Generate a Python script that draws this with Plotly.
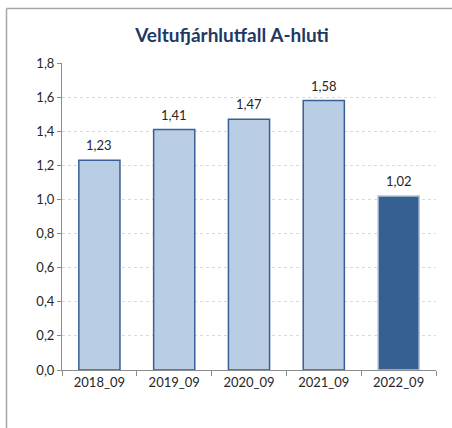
import plotly.graph_objects as go

categories = ["2018_09", "2019_09", "2020_09", "2021_09", "2022_09"]
values = [1.23, 1.41, 1.47, 1.58, 1.02]
fill_colors = ["#B9CDE5", "#B9CDE5", "#B9CDE5", "#B9CDE5", "#376092"]
line_colors = ["#3A5F95", "#3A5F95", "#3A5F95", "#3A5F95", "#B4C4DA"]
y_ticks = [0.0, 0.2, 0.4, 0.6, 0.8, 1.0, 1.2, 1.4, 1.6, 1.8]

FONT = "Lato, Calibri, Carlito, sans-serif"

fig = go.Figure()
fig.add_trace(go.Bar(
    x=categories, y=values, width=0.55,
    marker=dict(color=fill_colors, line=dict(color=line_colors, width=1.5)),
    hoverinfo="skip",
))

for c, v in zip(categories, values):
    fig.add_annotation(
        x=c, y=v, xref="x", yref="y", text=f"{v:.2f}".replace(".", ","),
        showarrow=False, yanchor="bottom", yshift=5,
        font=dict(family=FONT, size=13, color="#262626"),
    )

W, H = 452, 428
L, R, T, B = 62, 16, 63, 58
pw, ph = W - L - R, H - T - B

def px(x):
    return (x - L) / pw

def py(y):
    return 1 - (y - T) / ph

fig.update_layout(
    width=W, height=H,
    margin=dict(l=L, r=R, t=T, b=B, pad=0),
    paper_bgcolor="white", plot_bgcolor="white",
    separators=", ",
    showlegend=False,
    bargap=0.45,
    title=dict(text="<b>Veltufjárhlutfall A-hluti</b>", x=232 / W, xanchor="center",
               y=1 - 35 / H, yanchor="middle", xref="container", yref="container",
               font=dict(family=FONT, size=19, color="#1F3864")),
    xaxis=dict(showline=True, linecolor="#8C8C8C", linewidth=1,
               ticks="outside", tickson="boundaries", ticklen=5, tickcolor="#8C8C8C",
               tickfont=dict(family=FONT, size=13, color="#262626"),
               showgrid=False, fixedrange=True),
    yaxis=dict(range=[0, 1.8], tickvals=y_ticks, tickformat=".1f",
               showline=True, linecolor="#8C8C8C", linewidth=1,
               ticks="outside", ticklen=4, tickcolor="#8C8C8C",
               tickfont=dict(family=FONT, size=13, color="#262626"),
               showgrid=True, gridcolor="#D9D9D9", griddash="dot", gridwidth=1,
               zeroline=False, fixedrange=True),
    shapes=[
        dict(type="line", xref="paper", yref="paper", x0=px(6.5), x1=px(W), y0=py(8.5), y1=py(8.5),
             line=dict(color="#A6A6A6", width=1.5)),
        dict(type="line", xref="paper", yref="paper", x0=px(6.5), x1=px(6.5), y0=py(8.5), y1=py(H),
             line=dict(color="#A6A6A6", width=1.5)),
    ],
)

fig.write_html(
    "out.html",
    config={"displayModeBar": False, "staticPlot": True},
    post_script="document.body.style.margin='0';document.body.style.overflow='hidden';",
)
